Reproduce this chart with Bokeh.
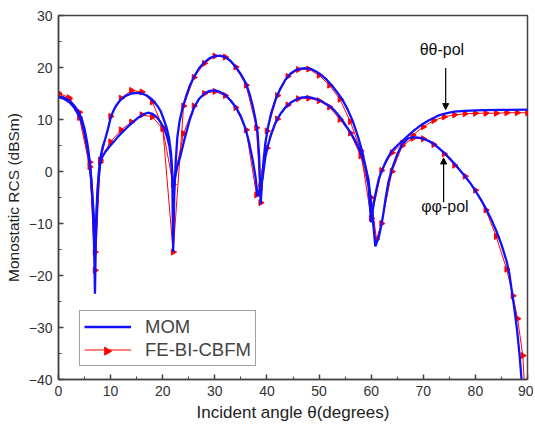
import numpy as np
from bokeh.plotting import figure
from bokeh.models import (Range1d, Label, Arrow, NormalHead, Legend, LegendItem,
                          FixedTicker)
from bokeh.embed import file_html
from bokeh.resources import INLINE

# ---------------- data ----------------
# MOM, theta-theta polarisation
mom_tt_x = [0, 1, 2, 3, 4, 4.5, 5, 5.5, 6, 6.3, 6.6, 6.85, 7.0, 7.15, 7.4, 7.7, 8.0, 8.5, 9.0,
            9.5, 10.0, 10.5, 11, 12, 13, 14, 15, 16, 17, 18, 19, 19.6, 20.2, 20.7, 21.2, 21.6,
            21.85, 22.0, 22.2, 22.5, 22.8, 23.2, 23.8, 24.5, 25.2, 26, 27, 28, 29, 30, 31, 32,
            33, 34, 35, 36, 36.7, 37.3, 37.8, 38.2, 38.5, 38.8, 39.05, 39.3, 39.7, 40.2, 40.8,
            41.6, 42.5, 43.5, 44.5, 45.5, 46.5, 47.5, 48.5, 49.5, 50.5, 51.5, 52.5, 53.5, 54.5,
            55.5, 56.5, 57.5, 58.3, 59.0, 59.5, 60.0, 60.5, 61, 61.5, 62, 62.5, 63, 64, 65, 66,
            67, 68, 69, 70, 71, 72, 73, 74, 75, 76, 78, 80, 82, 85, 90]
mom_tt_y = [14.4, 14.2, 13.7, 12.7, 11.2, 10.0, 8.2, 5.6, 2.0, -1.5, -7, -15, -23.5, -14, -5,
            -0.5, 2.5, 4.8, 6.4, 8.2, 10.3, 11.6, 12.6, 13.9, 14.6, 15.0, 15.1, 15.0, 14.6,
            13.8, 12.6, 11.6, 10.0, 8.6, 6.5, 3.5, -2, -15.5, -5, 2, 6.5, 9.5, 12.2, 14.5, 16.5,
            18.2, 19.9, 21.0, 21.8, 22.2, 22.3, 22.0, 21.3, 20.1, 18.7, 16.9, 14.8, 12.5, 10.0,
            7.5, 3, -6.3, -2, 1.5, 5.5, 8.5, 11.2, 13.7, 15.8, 17.6, 18.8, 19.5, 19.8, 19.9,
            19.7, 19.2, 18.5, 17.6, 16.5, 15.2, 13.8, 11.9, 9.6, 6.6, 3.8, 0.5, -2.9, -9.8,
            -6, -3.5, -1.3, 0.0, 1.2, 2.3, 4.0, 5.0, 5.9, 6.8, 7.7, 8.5, 9.2, 9.8, 10.3, 10.8,
            11.1, 11.3, 11.5, 11.65, 11.75, 11.8, 11.85, 11.9]

# MOM, phi-phi polarisation
mom_pp_x = [0, 1, 2, 3, 4, 4.5, 5, 5.5, 6, 6.4, 6.8, 7.1, 7.3, 7.6, 8.0, 8.4, 9.0, 9.8, 10.6,
            11.5, 12.5, 13.5, 14.5, 15.5, 16.5, 17.2, 18, 18.8, 19.5, 20.2, 20.8, 21.3, 21.7,
            22.0, 22.3, 22.8, 23.4, 24.0, 24.5, 25.2, 26, 27, 28, 29, 30, 31, 32, 33, 34, 35,
            35.9, 36.6, 37.3, 37.8, 38.2, 38.6, 39.2, 39.7, 40.2, 40.8, 41.6, 42.6, 43.6, 44.5,
            45.5, 46.5, 47.5, 48.5, 49.5, 50.5, 51.5, 52.5, 53.5, 54.5, 55.5, 56.5, 57.5, 58.3,
            58.9, 59.5, 60.2, 60.8, 61.5, 62.2, 62.8, 63.3, 64, 65, 66, 67, 68, 69, 70, 71, 72,
            73, 74, 75, 76, 77, 78, 79, 80, 81, 82, 83, 84, 85, 86, 86.5, 87, 87.5, 88, 88.5,
            88.9]
mom_pp_y = [14.3, 14.0, 13.4, 12.3, 10.6, 9.3, 7.4, 4.8, 1.3, -3, -9, -13, -8, -2.5, 1.5, 2.8,
            3.8, 4.8, 5.7, 6.8, 7.8, 8.8, 9.7, 10.5, 11.1, 11.3, 11.1, 10.5, 9.6, 8.4, 6.8, 4.8,
            1.5, -2.5, -1.5, 1.0, 3.0, 5.5, 7.4, 10.0, 12.3, 14.0, 15.0, 15.5, 15.6, 15.3, 14.7,
            13.7, 12.4, 10.6, 8.2, 5.5, 2, -1, -4.8, -3.5, -1, 2.8, 5.0, 7.2, 9.3, 11.1, 12.4,
            13.2, 13.8, 14.2, 14.3, 14.2, 13.9, 13.5, 12.9, 12.2, 11.1, 9.8, 8.3, 6.7, 4.8, 2.8,
            0.9, -1.6, -8, -14.4, -12.5, -9.0, -5, -2.1, 0.5, 3.3, 5.3, 6.3, 6.6, 6.5, 6.3, 5.9,
            5.3, 4.5, 3.6, 2.6, 1.5, 0.3, -0.9, -2.2, -3.7, -5.3, -7.1, -9.1, -11.4, -14.0,
            -17.3, -19.5, -23.0, -26.5, -30.5, -35.5, -40.5]

# FE-BI-CBFM, theta-theta polarisation
cbfm_tt_x = [0, 2, 4, 6, 7, 8, 10, 12, 14, 16, 18, 20, 22, 24, 26, 28, 30, 32, 34, 36, 38, 38.8,
             40, 42, 44, 46, 48, 50, 52, 54, 56, 58, 60, 62, 64, 66, 68, 70, 72, 74, 76, 78, 80,
             82, 84, 86, 88, 90]
cbfm_tt_y = [15.1, 14.2, 11.4, 1.8, -19.0, 1.8, 10.6, 14.1, 15.6, 15.3, 13.4, 8.5, -15.5, 12.6,
             18.1, 20.8, 22.2, 22.0, 20.1, 16.6, 8.4, -6.0, 7.8, 14.6, 18.3, 19.6, 19.7, 18.5,
             16.6, 13.9, 9.6, 4.0, -9.0, 0.2, 3.6, 5.4, 7.0, 8.6, 9.8, 10.5, 10.9, 11.1, 11.2,
             11.2, 11.2, 11.3, 11.3, 11.3]

# FE-BI-CBFM, phi-phi polarisation
cbfm_pp_x = [0, 2, 4, 6, 7, 8, 10, 12, 14, 16, 18, 20, 22, 24, 26, 28, 30, 32, 34, 36, 38, 40,
             42, 44, 46, 48, 50, 52, 54, 56, 58, 60, 61, 62, 64, 66, 68, 70, 72, 74, 76, 78, 80,
             82, 84, 86, 87.2, 88.1, 89.1, 89.4]
cbfm_pp_y = [14.9, 13.9, 10.4, 0.9, -15.5, 2.2, 5.7, 8.0, 9.5, 10.9, 10.5, 8.2, -2.5, 7.3, 12.6,
             15.0, 15.4, 14.6, 12.3, 8.0, -4.5, 4.5, 10.1, 12.8, 14.0, 14.1, 13.6, 12.4, 10.0,
             7.4, 3.0, -5.0, -13.0, -10.0, 0.0, 5.0, 6.4, 6.3, 5.2, 3.4, 1.2, -0.9, -3.6, -7.4,
             -12.5, -18.8, -23.9, -28.3, -35.4, -40.5]

x_ticks = list(range(0, 91, 10))
y_ticks = list(range(-40, 31, 10))

# ---------------- figure ----------------
FONT = "Liberation Sans"
BLUE = "#1010ff"
RED = "#ff0000"
X0, X1, Y0, Y1 = 0, 90, -40, 30
FW, FH = 469, 366            # frame size in px

p = figure(width=533, height=424, x_range=Range1d(X0, X1), y_range=Range1d(Y0, Y1),
           output_backend="svg", toolbar_location=None,
           min_border_left=58, min_border_right=6, min_border_top=15, min_border_bottom=43)
p.grid.visible = False
p.background_fill_color = "white"
p.border_fill_color = "white"
p.outline_line_color = "#444444"
p.outline_line_width = 1.5

for ax, ticks in ((p.xaxis, x_ticks), (p.yaxis, y_ticks)):
    ax.ticker = FixedTicker(ticks=ticks, minor_ticks=[t + 5 for t in ticks[:-1]])
    ax.major_tick_in = 5
    ax.major_tick_out = 0
    ax.minor_tick_in = 3
    ax.minor_tick_out = 0
    ax.axis_line_color = "#444444"
    ax.axis_line_width = 1.5
    ax.major_tick_line_color = "#444444"
    ax.minor_tick_line_color = "#444444"
    ax.major_tick_line_width = 1.5
    ax.major_label_text_font = FONT
    ax.major_label_text_font_size = "14px"
    ax.major_label_text_color = "#333333"
    ax.axis_label_text_font = FONT
    ax.axis_label_text_font_style = "normal"
    ax.axis_label_text_color = "#222222"
    ax.major_label_standoff = 6

p.xaxis.axis_label = "Incident angle \u03b8(degrees)"
p.yaxis.axis_label = "Monostatic RCS (dBSm)"
p.xaxis.axis_label_text_font_size = "17px"
p.yaxis.axis_label_text_font_size = "15.5px"
p.xaxis.axis_label_standoff = 4
p.yaxis.axis_label_standoff = 4

# CBFM (red) first, MOM (blue) on top
r_tt_line = p.line(cbfm_tt_x, cbfm_tt_y, line_color=RED, line_width=1)
r_pp_line = p.line(cbfm_pp_x, cbfm_pp_y, line_color=RED, line_width=1)
r_tt_mk = p.scatter(cbfm_tt_x, cbfm_tt_y, marker="triangle", angle=-np.pi / 2, size=6,
                    fill_color=RED, line_color=RED)
r_pp_mk = p.scatter(cbfm_pp_x, cbfm_pp_y, marker="triangle", angle=-np.pi / 2, size=6,
                    fill_color=RED, line_color=RED)

b_tt = p.line(mom_tt_x, mom_tt_y, line_color=BLUE, line_width=2.3)
b_pp = p.line(mom_pp_x, mom_pp_y, line_color=BLUE, line_width=2.3)

# annotations
p.add_layout(Label(x=69.3, y=21.8, text="\u03b8\u03b8-pol", text_font=FONT,
                   text_font_size="16px", text_color="#111111"))
p.add_layout(Arrow(x_start=74.3, y_start=19.9, x_end=74.3, y_end=11.9,
                   line_color="black", line_width=1.2,
                   end=NormalHead(size=6, fill_color="black", line_color="black")))
p.add_layout(Label(x=69.6, y=-8.3, text="\u03c6\u03c6-pol", text_font=FONT,
                   text_font_size="16px", text_color="#111111"))
p.add_layout(Arrow(x_start=73.9, y_start=-5.9, x_end=73.9, y_end=2.6,
                   line_color="black", line_width=1.2,
                   end=NormalHead(size=6, fill_color="black", line_color="black")))

# legend (transparent background so the rotated marker glyph below shows through;
# no curve passes through the legend area)
LEG_X, LEG_Y, LEG_PAD, ITEM_H, GLYPH_W = 21, 13, 4, 23, 47
legend = Legend(items=[LegendItem(label="MOM", renderers=[b_tt]),
                       LegendItem(label="FE-BI-CBFM", renderers=[r_tt_line])],
                location=(LEG_X, LEG_Y), padding=LEG_PAD, spacing=0, margin=0,
                glyph_width=GLYPH_W, glyph_height=ITEM_H, label_height=ITEM_H,
                label_standoff=14,
                label_text_font=FONT, label_text_font_size="18.5px",
                border_line_color="#444444", border_line_width=1,
                background_fill_alpha=0.0)
p.add_layout(legend)

# right-pointing legend marker (legend glyphs ignore marker rotation)
mk_x = X0 + (LEG_X + LEG_PAD + GLYPH_W / 2) * (X1 - X0) / FW
mk_y = Y0 + (LEG_Y + LEG_PAD + ITEM_H / 2) * (Y1 - Y0) / FH
p.scatter([mk_x], [mk_y], marker="triangle", angle=-np.pi / 2, size=8,
          fill_color=RED, line_color=RED)

open("out.html", "w").write(file_html(p, INLINE))
